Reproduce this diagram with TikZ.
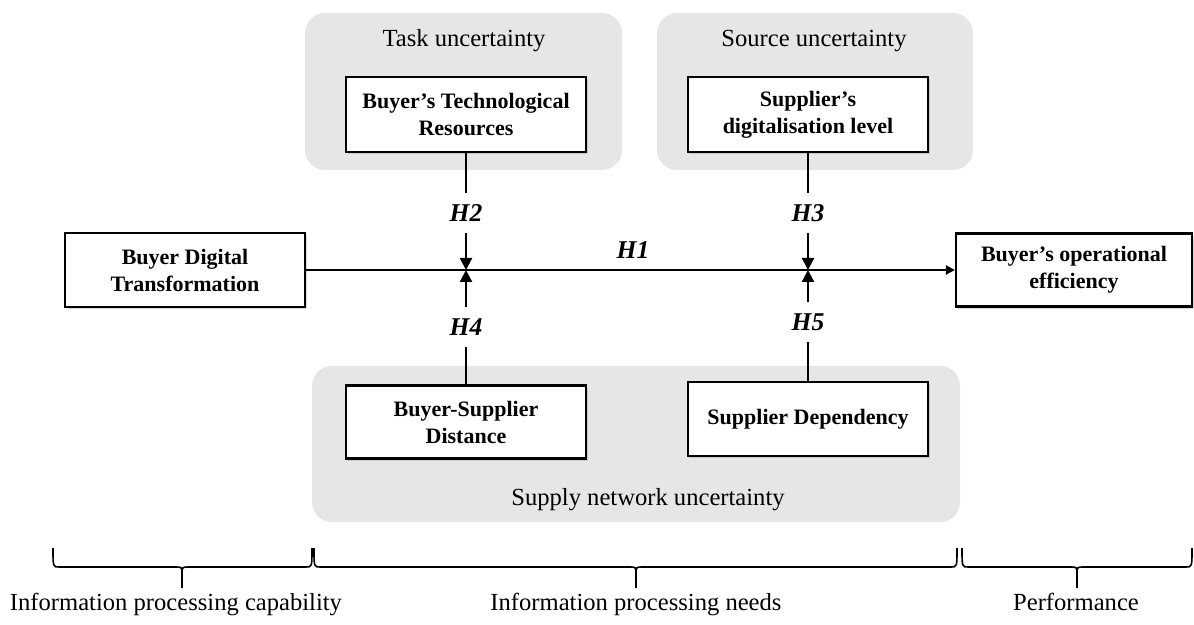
\documentclass[tikz,border=0pt]{standalone}
\usepackage{fontspec}
\setmainfont{Liberation Serif}
\usetikzlibrary{arrows.meta,shadows}
\definecolor{groupgray}{HTML}{E6E6E6}
\newcommand{\drawmybrace}[3]{%
  \draw[bracepath] (#1,548) .. controls (#1,567) .. (#1+6,567) -- (#2-6,567)
    .. controls (#2,567) .. (#2,575) -- (#2,588) -- (#2,575)
    .. controls (#2,567) .. (#2+6,567) -- (#3-6,567)
    .. controls (#3,567) .. (#3,548);}
\begin{document}
\begin{tikzpicture}[x=0.5pt,y=-0.5pt,
  groupbox/.style={fill=groupgray,rounded corners=10pt,draw=none,inner sep=0pt},
  varbox/.style={draw=black,line width=1.1pt,fill=white,align=center,
    font=\fontsize{11}{13.5}\selectfont\bfseries,inner sep=2pt,
    minimum width=120pt,minimum height=37pt,
    drop shadow={shadow xshift=1.2pt,shadow yshift=-1.2pt,opacity=0.3}},
  hyp/.style={font=\fontsize{12.8}{14}\selectfont\bfseries\itshape,inner sep=0pt,minimum height=20pt},
  grouptitle/.style={font=\fontsize{12.3}{14}\selectfont,anchor=base,inner sep=0pt},
  conn/.style={line width=1.1pt},
  arr/.style={line width=1.1pt,-{Triangle[length=6pt,width=6pt]}},
  mainarr/.style={line width=1.1pt,-{Triangle[length=4.5pt,width=4.5pt]}},
  bracepath/.style={line width=0.8pt}]

\useasboundingbox (0,0) rectangle (1194,625);

% group backgrounds
\node[groupbox,minimum width=158.5pt,minimum height=78.5pt] (task) at (463.5,91.5) {};
\node[groupbox,minimum width=158pt,minimum height=78.5pt] (source) at (815,91.5) {};
\node[groupbox,minimum width=324pt,minimum height=78pt] (supply) at (636,444) {};

\node[grouptitle] (tasklbl) at (464,47) {Task uncertainty};
\node[grouptitle] (sourcelbl) at (814,47) {Source uncertainty};
\node[grouptitle] (supplylbl) at (648,505) {Supply network uncertainty};

% variable boxes
\node[varbox] (bdt) at (185,270) {Buyer Digital\\Transformation};
\node[varbox,minimum width=118pt,minimum height=36.5pt] (boe) at (1074,270) {Buyer’s operational\\efficiency};
\node[varbox,minimum height=37.5pt] (btr) at (466,114.5) {Buyer’s Technological\\Resources};
\node[varbox,minimum height=37.5pt] (sdl) at (808,114.5) {Supplier’s\\digitalisation level};
\node[varbox,minimum height=36.5pt] (bsd) at (466,422) {Buyer-Supplier\\Distance};
\node[varbox] (sd) at (808,419) {Supplier Dependency};

% hypotheses
\node[hyp] (h2) at (466,213) {H2};
\node[hyp] (h3) at (808,213) {H3};
\node[hyp] (h4) at (466,327) {H4};
\node[hyp] (h5) at (808,322) {H5};
\node[hyp,minimum height=0pt] (h1) at (633,250) {H1};

\coordinate (j1) at (466,270);
\coordinate (j2) at (808,270);

% connectors
\draw[mainarr] (bdt.east) -- (boe.west);
\draw[conn] (btr.south) -- (h2.north);
\draw[arr] (h2.south) -- (j1);
\draw[conn] (sdl.south) -- (h3.north);
\draw[arr] (h3.south) -- (j2);
\draw[conn] (bsd.north) -- (h4.south);
\draw[arr] (h4.north) -- (j1);
\draw[conn] (sd.north) -- (h5.south);
\draw[arr] (h5.north) -- (j2);

% braces
\drawmybrace{53}{182}{312}
\drawmybrace{314}{636}{957}
\drawmybrace{962}{1077}{1192}

\node[grouptitle] (cap) at (176,610) {Information processing capability};
\node[grouptitle] (needs) at (636,610) {Information processing needs};
\node[grouptitle] (perf) at (1076,610) {Performance};
\end{tikzpicture}
\end{document}
